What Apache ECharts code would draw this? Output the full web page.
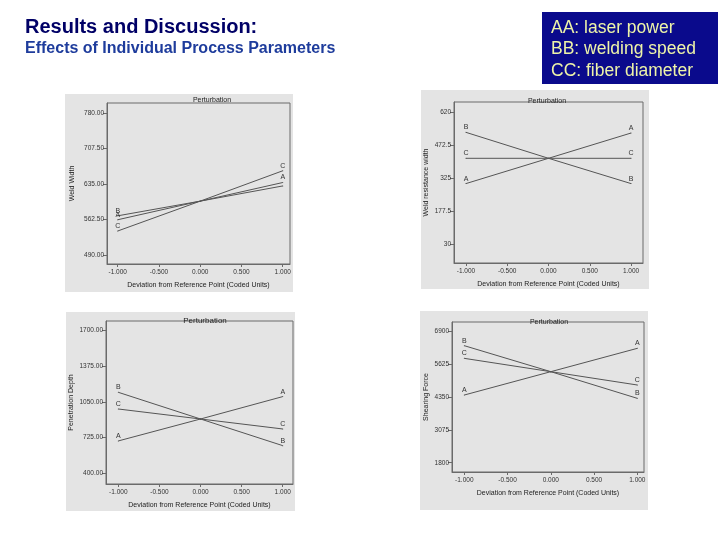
<!DOCTYPE html>
<html><head><meta charset="utf-8">
<script src="https://cdn.jsdelivr.net/npm/echarts@6/dist/echarts.min.js"></script>
<style>html,body{margin:0;padding:0;background:#fff}#c{width:720px;height:540px}</style>
</head><body><div id="c"></div>
<script>
// ---- data ----
const coded = [-1, 0, 1];
const xTicks = [-1, -0.5, 0, 0.5, 1];

const p1Name = 'Weld Width';
const p1Ticks = [490, 562.5, 635, 707.5, 780];
const p1A = [562, 600, 638];
const p1B = [570, 600, 631];
const p1C = [539, 600, 662];
const p1LeftLabels = ['A', 'B', 'C'];
const p1RightLabels = ['A', '', 'C'];

const p2Name = 'Weld resistance width';
const p2Ticks = [30, 177.5, 325, 472.5, 620];
const p2A = [300, 413, 526];
const p2B = [529, 413, 300];
const p2C = [413, 413, 413];
const p2LeftLabels = ['A', 'B', 'C'];
const p2RightLabels = ['A', 'B', 'C'];

const p3Name = 'Penetration Depth';
const p3Ticks = [400, 725, 1050, 1375, 1700];
const p3A = [695, 895, 1099];
const p3B = [1138, 895, 652];
const p3C = [986, 895, 804];
const p3LeftLabels = ['A', 'B', 'C'];
const p3RightLabels = ['A', 'B', 'C'];

const p4Name = 'Shearing Force';
const p4Ticks = [1800, 3075, 4350, 5625, 6900];
const p4A = [4421, 5325, 6229];
const p4B = [6332, 5325, 4292];
const p4C = [5841, 5325, 4809];
const p4LeftLabels = ['A', 'B', 'C'];
const p4RightLabels = ['A', 'B', 'C'];

const xName = 'Deviation from Reference Point (Coded Units)';
const panelTitle = 'Perturbation';
const legendLines = ['AA: laser power', 'BB: welding speed', 'CC: fiber diameter'];

// ---- layout / style ----
const FONT = 'Liberation Sans, Arial, sans-serif';
const panels = [
  {name: p1Name, ticks: p1Ticks, series: [p1A, p1B, p1C], L: p1LeftLabels, R: p1RightLabels, fmt: v => v.toFixed(2),
   grid: {left: 107, top: 103, width: 183, height: 161}, x: [-1.13, 1.088], y: [471.6, 800.4],
   bg: [65, 94, 228, 198], title: [207, 92], nameGap: 31},
  {name: p2Name, ticks: p2Ticks, series: [p2A, p2B, p2C], L: p2LeftLabels, R: p2RightLabels, fmt: v => String(v),
   grid: {left: 454, top: 102, width: 189, height: 161}, x: [-1.145, 1.145], y: [-55, 664.7],
   bg: [421, 90, 228, 199], title: [542, 93], nameGap: 24},
  {name: p3Name, ticks: p3Ticks, series: [p3A, p3B, p3C], L: p3LeftLabels, R: p3RightLabels, fmt: v => v.toFixed(2),
   grid: {left: 106, top: 321, width: 187, height: 163}, x: [-1.15, 1.125], y: [302.5, 1788],
   bg: [66, 312, 229, 199], title: [200, 312], nameGap: 31},
  {name: p4Name, ticks: p4Ticks, series: [p4A, p4B, p4C], L: p4LeftLabels, R: p4RightLabels, fmt: v => String(v),
   grid: {left: 452, top: 322, width: 192, height: 150}, x: [-1.142, 1.077], y: [1440, 7249],
   bg: [420, 311, 228, 199], title: [544, 314], nameGap: 22}
];

const grid = [], xAxis = [], yAxis = [], series = [], title = [], graphic = [];
const letters = ['A', 'B', 'C'];

title.push({text: 'Results and Discussion:', left: 25, top: 17, padding: 0,
  textStyle: {fontFamily: FONT, fontSize: 20, fontWeight: 'bold', color: '#000066'}});
title.push({text: 'Effects of Individual Process Parameters', left: 25, top: 41, padding: 0,
  textStyle: {fontFamily: FONT, fontSize: 16, fontWeight: 'bold', color: '#1e3c9c'}});

graphic.push({type: 'rect', shape: {x: 542, y: 12, width: 176, height: 72}, style: {fill: '#0a0a8c'}, z: 1});
legendLines.forEach((t, i) => {
  graphic.push({type: 'text', x: 551, y: 19 + i * 21.5, z: 2,
    style: {text: t, fill: '#eef4a8', font: '17.5px ' + FONT}});
});

panels.forEach((p, k) => {
  graphic.push({type: 'rect', shape: {x: p.bg[0], y: p.bg[1], width: p.bg[2], height: p.bg[3]},
    style: {fill: '#e4e4e4'}, z: -10});
  title.push({text: panelTitle, left: p.title[0], top: p.title[1], textAlign: 'center',
    textStyle: {fontFamily: FONT, fontSize: k === 2 ? 8 : 7, fontWeight: 'normal', color: '#222'}});
  grid.push(Object.assign({show: true, borderColor: '#6a6a6a', borderWidth: 1, backgroundColor: 'transparent'}, p.grid));
  xAxis.push({type: 'value', gridIndex: k, min: p.x[0], max: p.x[1],
    name: xName, nameLocation: 'middle', nameGap: 18,
    nameTextStyle: {fontFamily: FONT, fontSize: 7, color: '#222'},
    axisLine: {show: true, onZero: false, lineStyle: {color: '#6a6a6a'}},
    axisTick: {show: true, length: 3, customValues: xTicks, lineStyle: {color: '#6a6a6a'}},
    axisLabel: {customValues: xTicks, formatter: v => v.toFixed(3), fontFamily: FONT, fontSize: 6.5, color: '#333', margin: 5},
    splitLine: {show: false}});
  yAxis.push({type: 'value', gridIndex: k, min: p.y[0], max: p.y[1],
    name: p.name, nameLocation: 'middle', nameGap: p.nameGap,
    nameTextStyle: {fontFamily: FONT, fontSize: 7, color: '#222'},
    axisLine: {show: true, onZero: false, lineStyle: {color: '#6a6a6a'}},
    axisTick: {show: true, length: 4, customValues: p.ticks, lineStyle: {color: '#6a6a6a'}},
    axisLabel: {customValues: p.ticks, formatter: p.fmt, fontFamily: FONT, fontSize: 6.5, color: '#333', margin: 3},
    splitLine: {show: false}});
  p.series.forEach((vals, s) => {
    const data = coded.map((x, i) => {
      const item = {value: [x, vals[i]]};
      let lab = '';
      if (i === 0) lab = p.L[s];
      if (i === coded.length - 1) lab = p.R[s];
      if (lab) item.label = {show: true, formatter: lab, position: 'top', distance: 1,
        fontFamily: FONT, fontSize: 7, color: '#333'};
      return item;
    });
    series.push({type: 'line', name: letters[s], xAxisIndex: k, yAxisIndex: k, data,
      symbol: 'circle', symbolSize: 1, showSymbol: true, itemStyle: {color: '#555'},
      lineStyle: {color: '#555', width: 1}, silent: true, animation: false,
      label: {show: false}});
  });
});

const chart = echarts.init(document.getElementById('c'), null, {renderer: 'canvas'});
chart.setOption({animation: false, backgroundColor: '#fff', title, grid, xAxis, yAxis, series, graphic});
</script></body></html>
